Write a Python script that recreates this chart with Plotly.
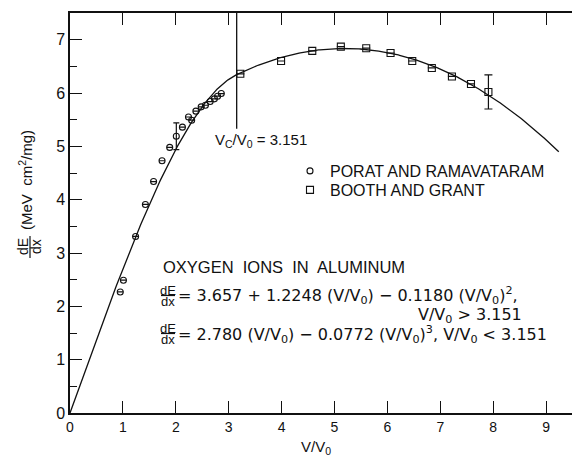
import numpy as np
import plotly.graph_objects as go

# ---- data ----
porat_x = [0.95, 1.01, 1.24, 1.425, 1.58, 1.74, 1.885, 2.01, 2.125, 2.24, 2.30, 2.38, 2.48, 2.56, 2.65, 2.73, 2.79, 2.86]
porat_y = [2.27, 2.49, 3.31, 3.91, 4.34, 4.73, 4.98, 5.19, 5.36, 5.55, 5.49, 5.66, 5.74, 5.77, 5.84, 5.89, 5.94, 5.99]
porat_err = [None] * 7 + [0.25] + [None] * 10

booth_x = [3.22, 3.99, 4.58, 5.12, 5.60, 6.06, 6.47, 6.84, 7.22, 7.58, 7.91]
booth_y = [6.36, 6.60, 6.79, 6.87, 6.84, 6.75, 6.60, 6.47, 6.31, 6.17, 6.02]
booth_err = [None] * 10 + [0.32]

# fit coefficients printed on the chart
v_c = 3.151
low_a, low_b = 2.780, 0.0772            # dE/dx = a v - b v^3, v < v_c
high_a, high_b, high_c = 3.657, 1.2248, 0.1180  # dE/dx = a + b v - c v^2, v > v_c
curve_end = 9.24

x_ticks = list(range(0, 10))
y_ticks = list(range(0, 8))

v = np.linspace(0, curve_end, 400)
fit = np.where(v < v_c, low_a * v - low_b * v ** 3, high_a + high_b * v - high_c * v ** 2)

FONT = "Liberation Sans"
FONT2 = "DejaVu Sans"
INK = "#111111"
W, H = 572, 459
L, R, T, B = 70, 0, 13, 46
PW, PH = W - L - R, H - T - B


def px(xp):
    return (xp - L) / PW


def py(yp):
    return (H - B - yp) / PH


fig = go.Figure()
fig.add_trace(go.Scatter(x=v, y=fit, mode="lines", line=dict(color=INK, width=1.3),
                         showlegend=False, hoverinfo="skip"))
fig.add_trace(go.Scatter(x=porat_x, y=porat_y, mode="markers", name="PORAT AND RAMAVATARAM",
                         legend="legend",
                         marker=dict(symbol="circle-open", size=6, color=INK, line=dict(width=1.1)),
                         error_y=dict(type="data", array=porat_err, visible=True, color=INK,
                                      thickness=1.2, width=3)))
fig.add_trace(go.Scatter(x=booth_x, y=booth_y, mode="markers", name="BOOTH AND GRANT",
                         legend="legend2",
                         marker=dict(symbol="square-open", size=7, color=INK, line=dict(width=1.1)),
                         error_y=dict(type="data", array=booth_err, visible=True, color=INK,
                                      thickness=1.2, width=4)))

# critical velocity marker line
fig.add_shape(type="line", xref="x", yref="y", x0=v_c, x1=v_c, y0=5.33, y1=7.5,
              line=dict(color=INK, width=1.3))

ann = []


def A(text, x, y, size, xanchor="left", yanchor="middle", angle=0, family=FONT):
    ann.append(dict(text=text, x=x, y=y, xref="paper", yref="paper", showarrow=False,
                    xanchor=xanchor, yanchor=yanchor, textangle=angle, borderpad=0,
                    font=dict(size=size, family=family, color=INK)))


A("V<sub>C</sub>/V<sub>0</sub> = 3.151", px(214), py(140), 15, family=FONT)
A("OXYGEN  IONS  IN  ALUMINUM", px(162), py(267), 16.5)
# formula 1
A("dE", px(168), py(290), 13, xanchor="center")
A("dx", px(168), py(301), 13, xanchor="center")
fig.add_shape(type="line", xref="paper", yref="paper", x0=px(161), x1=px(175), y0=py(295.5), y1=py(295.5),
              line=dict(color=INK, width=1.2))
A("= 3.657 + 1.2248 (V/V<sub>0</sub>) − 0.1180 (V/V<sub>0</sub>)<sup>2</sup>,", px(177), py(295), 16, family=FONT2)
A("V/V<sub>0</sub> > 3.151", px(523), py(315), 16, xanchor="right", family=FONT2)
# formula 2
A("dE", px(168), py(328), 13, xanchor="center")
A("dx", px(168), py(339), 13, xanchor="center")
fig.add_shape(type="line", xref="paper", yref="paper", x0=px(161), x1=px(175), y0=py(333.5), y1=py(333.5),
              line=dict(color=INK, width=1.2))
A("= 2.780 (V/V<sub>0</sub>) − 0.0772 (V/V<sub>0</sub>)<sup>3</sup>, V/V<sub>0</sub> < 3.151", px(177), py(334), 16,
  family=FONT2)

# axis titles
A("V/V<sub>0</sub>", px(316), py(447), 15, xanchor="center")
A("(MeV  cm<sup>2</sup>/mg)", px(25), py(180), 15, xanchor="center", angle=-90)
A("dE", px(23), py(247), 14, xanchor="center", angle=-90)
A("dx", px(36), py(247), 14, xanchor="center", angle=-90)
fig.add_shape(type="line", xref="paper", yref="paper", x0=px(30), x1=px(30), y0=py(236), y1=py(258),
              line=dict(color=INK, width=1.2))

leg_common = dict(xanchor="left", yanchor="top", bgcolor="rgba(0,0,0,0)", borderwidth=0,
                  font=dict(size=16, family=FONT, color=INK), itemwidth=30, tracegroupgap=0)

fig.update_layout(
    width=W, height=H,
    margin=dict(l=L, r=R, t=T, b=B),
    paper_bgcolor="white", plot_bgcolor="white",
    font=dict(family=FONT, color=INK),
    annotations=ann,
    showlegend=True,
    legend=dict(x=px(290), y=py(154), **leg_common),
    legend2=dict(x=px(290), y=py(173), **leg_common),
    xaxis=dict(range=[0, 9.49], tickmode="array", tickvals=x_ticks, ticktext=[str(t) for t in x_ticks],
               showline=True, linecolor=INK, linewidth=1.5, mirror="ticks",
               ticks="inside", ticklen=12, tickwidth=1.4, tickcolor=INK,
               tickfont=dict(size=14, family=FONT, color=INK),
               showgrid=False, zeroline=False),
    yaxis=dict(range=[0, 7.5], tickmode="array", tickvals=y_ticks, ticktext=[str(t) for t in y_ticks],
               showline=True, linecolor=INK, linewidth=1.5,
               ticks="inside", ticklen=12, tickwidth=1.4, tickcolor=INK,
               minor=dict(ticks="inside", ticklen=7, dtick=0.5, tickwidth=1.4, tickcolor=INK, showgrid=False),
               tickfont=dict(size=16, family=FONT, color=INK),
               showgrid=False, zeroline=False),
    yaxis2=dict(range=[0, 7.5], overlaying="y", side="right", tickmode="array", tickvals=y_ticks,
                showticklabels=False, showline=False,
                ticks="inside", ticklen=12, tickwidth=1.4, tickcolor=INK,
                minor=dict(ticks="inside", ticklen=6, dtick=0.5, tickwidth=1.4, tickcolor=INK, showgrid=False),
                showgrid=False, zeroline=False),
)

fig.write_html("out.html", config={"displayModeBar": False},
               post_script="document.body.style.margin='0';document.body.style.overflow='hidden';")
